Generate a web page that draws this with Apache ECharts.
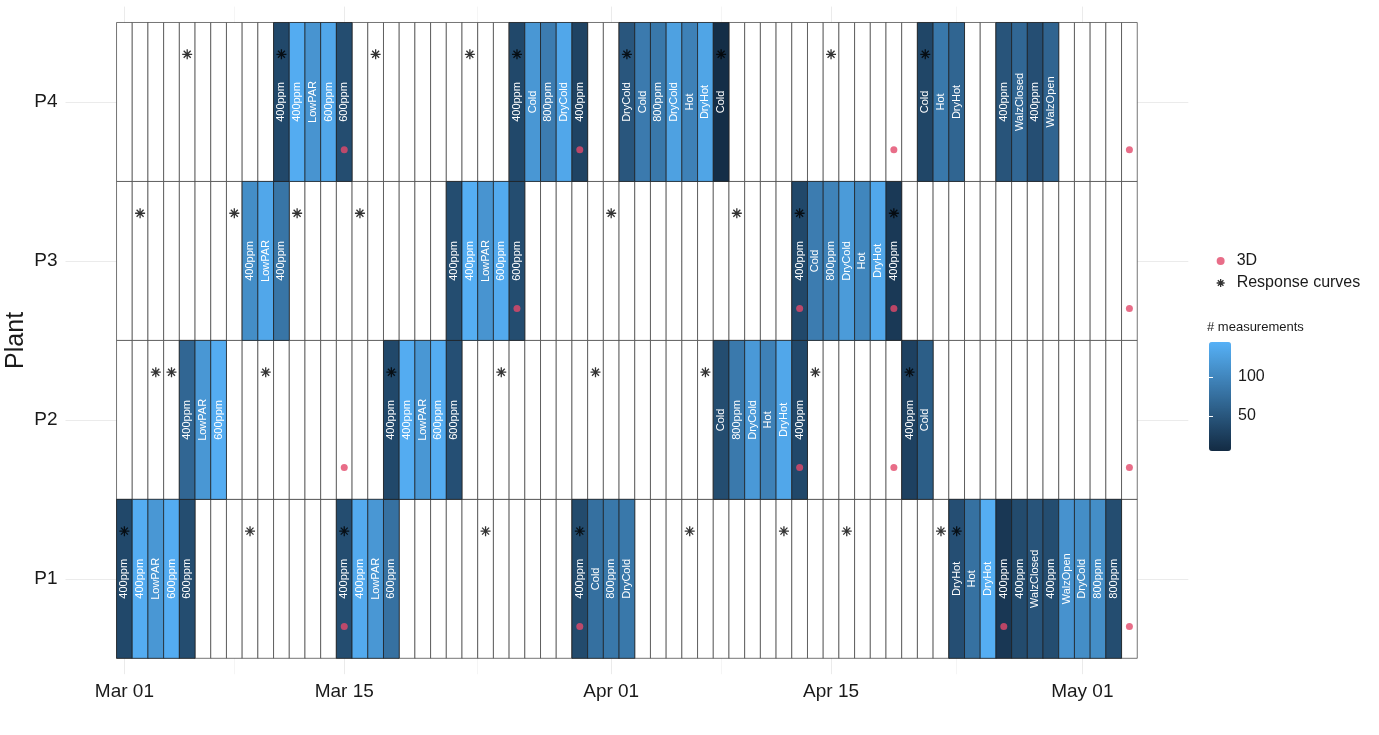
<!DOCTYPE html>
<html>
<head>
<meta charset="utf-8">
<script src="https://cdn.jsdelivr.net/npm/echarts@6/dist/echarts.min.js"></script>
<style>
  html, body { margin: 0; padding: 0; background: #fff; }
  #chart { width: 1379px; height: 735px; }
</style>
</head>
<body>
<div id="chart"></div>
<script>
  const plants = ['P1', 'P2', 'P3', 'P4'];
  const dayCount = 65;                       // Mar 01 .. May 04
  const tickDays = [0, 14, 31, 45, 61];      // days since Mar 01
  const tickLabels = ['Mar 01', 'Mar 15', 'Apr 01', 'Apr 15', 'May 01'];
  const minorDays = [7, 22.5, 38, 53];

  // [day since Mar 01, condition, # measurements]
  const tilesP1 = [
    [0, '400ppm', 35], [1, '400ppm', 140], [2, 'LowPAR', 118], [3, '600ppm', 140], [4, '600ppm', 40],
    [14, '400ppm', 40], [15, '400ppm', 138], [16, 'LowPAR', 118], [17, '600ppm', 78],
    [29, '400ppm', 38], [30, 'Cold', 77], [31, '800ppm', 85], [32, 'DryCold', 85],
    [53, 'DryHot', 42], [54, 'Hot', 78], [55, 'DryHot', 142], [56, '400ppm', 18], [57, '400ppm', 38],
    [58, 'WalzClosed', 48], [59, '400ppm', 40], [60, 'WalzOpen', 113], [61, 'DryCold', 108],
    [62, '800ppm', 108], [63, '800ppm', 40]
  ];
  const tilesP2 = [
    [4, '400ppm', 67], [5, 'LowPAR', 118], [6, '600ppm', 140],
    [17, '400ppm', 35], [18, '400ppm', 140], [19, 'LowPAR', 118], [20, '600ppm', 140], [21, '600ppm', 43],
    [38, 'Cold', 40], [39, '800ppm', 87], [40, 'DryCold', 120], [41, 'Hot', 95], [42, 'DryHot', 135], [43, '400ppm', 35],
    [50, '400ppm', 28], [51, 'Cold', 58]
  ];
  const tilesP3 = [
    [8, '400ppm', 108], [9, 'LowPAR', 135], [10, '400ppm', 82],
    [21, '400ppm', 40], [22, '400ppm', 142], [23, 'LowPAR', 115], [24, '600ppm', 138], [25, '600ppm', 40],
    [43, '400ppm', 35], [44, 'Cold', 90], [45, '800ppm', 97], [46, 'DryCold', 122], [47, 'Hot', 100],
    [48, 'DryHot', 135], [49, '400ppm', 20]
  ];
  const tilesP4 = [
    [10, '400ppm', 35], [11, '400ppm', 140], [12, 'LowPAR', 115], [13, '600ppm', 135], [14, '600ppm', 40],
    [25, '400ppm', 35], [26, 'Cold', 118], [27, '800ppm', 90], [28, 'DryCold', 135], [29, '400ppm', 30],
    [32, 'DryCold', 50], [33, 'Cold', 88], [34, '800ppm', 85], [35, 'DryCold', 128], [36, 'Hot', 95],
    [37, 'DryHot', 132], [38, 'Cold', 8],
    [51, 'Cold', 33], [52, 'Hot', 85], [53, 'DryHot', 66],
    [56, '400ppm', 48], [57, 'WalzClosed', 68], [58, '400ppm', 42], [59, 'WalzOpen', 65]
  ];

  // days with response curves (asterisk) and 3D scans (red dot)
  const curvesP1 = [0, 8, 14, 23, 29, 36, 42, 46, 52, 53];
  const curvesP2 = [2, 3, 9, 17, 24, 30, 37, 44, 50];
  const curvesP3 = [1, 7, 11, 15, 31, 39, 43, 49];
  const curvesP4 = [4, 10, 16, 22, 25, 32, 38, 45, 51];
  const scansP1 = [14, 29, 56, 64];
  const scansP2 = [14, 43, 49, 64];
  const scansP3 = [25, 43, 49, 64];
  const scansP4 = [14, 29, 49, 64];

  const colorMin = 5, colorMax = 145;
  const colorTicks = [50, 100];

  const font = 'Liberation Sans';
  const textColor = '#1a1a1a';
  const asterisk = 'path://M5,0L5,10M0,5L10,5M1.5,1.5L8.5,8.5M8.5,1.5L1.5,8.5';
  const asteriskStyle = { color: 'rgba(0,0,0,0)', borderColor: '#000', borderWidth: 1.3 };

  const tiles = [tilesP1, tilesP2, tilesP3, tilesP4]
    .flatMap((rows, i) => rows.map(r => [r[0], i + 1, r[2], r[1]]));
  const curves = [curvesP1, curvesP2, curvesP3, curvesP4]
    .flatMap((days, i) => days.map(d => [d, i + 1 + 0.3]));
  const scans = [scansP1, scansP2, scansP3, scansP4]
    .flatMap((days, i) => days.map(d => [d, i + 1 - 0.3]));
  const blank = [];
  plants.forEach((p, i) => {
    for (let d = 0; d < dayCount; d++) blank.push([d, i + 1]);
  });

  function cellRect(api) {
    const a = api.coord([api.value(0) - 0.5, api.value(1) + 0.5]);
    const b = api.coord([api.value(0) + 0.5, api.value(1) - 0.5]);
    return { x: a[0], y: a[1], width: b[0] - a[0], height: b[1] - a[1] };
  }

  const chart = echarts.init(document.getElementById('chart'));

  const gridLines = [
    ...tickDays.map(d => ({ xAxis: d })),
    ...minorDays.map(d => ({ xAxis: d, lineStyle: { width: 0.5 } })),
    ...plants.map((p, i) => ({ yAxis: i + 1 }))
  ];

  const option = {
    animation: false,
    textStyle: { fontFamily: font },
    title: {
      text: '# measurements',
      left: 1207, top: 321, padding: 0,
      textStyle: { fontSize: 13, fontWeight: 'normal', color: textColor, fontFamily: font }
    },
    legend: {
      left: 1216, top: 253, padding: 0,
      orient: 'vertical',
      itemWidth: 22, itemHeight: 8, itemGap: 6,
      textStyle: { fontSize: 16, color: textColor, fontFamily: font },
      data: [
        { name: '3D' },
        { name: 'Response curves', icon: asterisk, itemStyle: asteriskStyle }
      ]
    },
    grid: [
      { left: 65.5, right: 190.7, top: 6.6, bottom: 60.8, outerBoundsMode: 'none', containLabel: false },
      { left: 1209, top: 342, width: 22, height: 109, outerBoundsMode: 'none', containLabel: false }
    ],
    xAxis: [
      {
        type: 'value', min: -3.75, max: 67.75,
        axisLine: { show: false }, axisTick: { show: false }, splitLine: { show: false },
        axisLabel: {
          customValues: tickDays,
          formatter: v => tickLabels[tickDays.indexOf(v)],
          fontSize: 19, color: textColor, margin: 8
        }
      },
      { type: 'value', gridIndex: 1, show: false }
    ],
    yAxis: [
      {
        type: 'value', min: 0.4, max: 4.6,
        name: 'Plant', nameLocation: 'middle', nameGap: 37, nameMoveOverlap: false,
        nameTextStyle: { fontSize: 25, color: textColor },
        axisLine: { show: false }, axisTick: { show: false }, splitLine: { show: false },
        axisLabel: {
          customValues: [1, 2, 3, 4],
          formatter: v => plants[Math.round(v) - 1],
          fontSize: 19, color: textColor, margin: 8
        }
      },
      {
        type: 'value', gridIndex: 1, min: colorMin, max: colorMax, position: 'right', z: 10,
        axisLine: { show: false }, splitLine: { show: false },
        axisTick: { show: true, inside: true, length: 4, customValues: colorTicks, lineStyle: { color: '#fff', width: 1 } },
        axisLabel: { customValues: colorTicks, fontSize: 16, color: textColor, margin: 7 }
      },
      {
        type: 'value', gridIndex: 1, min: colorMin, max: colorMax, position: 'left', z: 10,
        axisLine: { show: false }, splitLine: { show: false },
        axisTick: { show: true, inside: true, length: 4, customValues: colorTicks, lineStyle: { color: '#fff', width: 1 } },
        axisLabel: { show: false }
      }
    ],
    visualMap: {
      type: 'continuous',
      seriesIndex: 2,
      dimension: 2,
      min: colorMin, max: colorMax,
      calculable: false, hoverLink: false,
      left: 1209, top: 342, padding: 0,
      itemWidth: 22, itemHeight: 109,
      inRange: { color: ['#132B43', '#56B1F7'] }
    },
    series: [
      {
        type: 'line', data: [], z: 0, silent: true,
        markLine: {
          z: 0, silent: true, symbol: 'none', label: { show: false },
          lineStyle: { color: '#EBEBEB', width: 1, type: 'solid' },
          data: gridLines
        }
      },
      {
        type: 'custom', z: 2, silent: true,
        data: blank,
        renderItem: (params, api) => ({
          type: 'rect', shape: cellRect(api),
          style: { fill: '#fff', stroke: '#3a3a3a', lineWidth: 0.7 }
        })
      },
      {
        type: 'custom', z: 3, silent: true,
        data: tiles,
        renderItem: (params, api) => {
          const r = cellRect(api);
          return {
            type: 'group',
            children: [
              { type: 'rect', shape: r, style: { fill: api.visual('color'), stroke: '#1e1e1e', lineWidth: 0.7 } },
              {
                type: 'text', x: r.x + r.width / 2, y: r.y + r.height / 2, rotation: Math.PI / 2,
                style: {
                  text: tiles[params.dataIndex][3], fill: '#fff',
                  font: '11px "' + font + '"', align: 'center', verticalAlign: 'middle'
                }
              }
            ]
          };
        }
      },
      {
        name: '3D', type: 'scatter', z: 5,
        data: scans, symbol: 'circle', symbolSize: 7,
        itemStyle: { color: '#E2486A' }
      },
      {
        name: 'Response curves', type: 'scatter', z: 5,
        data: curves,
        symbol: asterisk, symbolSize: 10,
        itemStyle: asteriskStyle
      }
    ]
  };

  chart.setOption(option);
  window.addEventListener('resize', () => { chart.resize(); });
</script>
</body>
</html>
